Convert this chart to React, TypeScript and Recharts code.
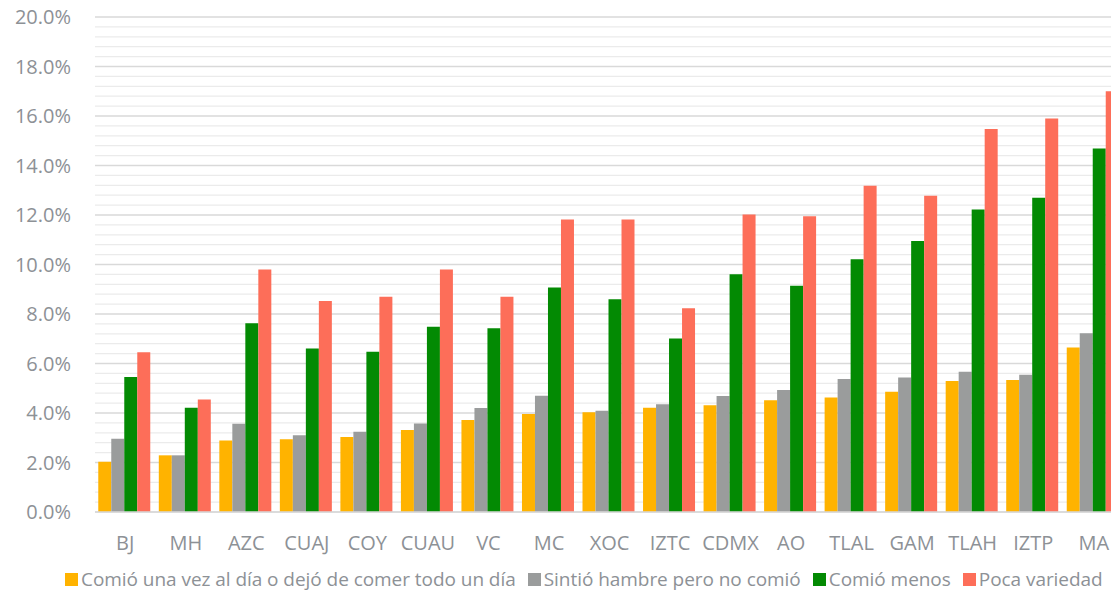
import { Bar, BarChart, CartesianGrid, Legend, ReferenceLine, XAxis, YAxis } from 'recharts';

const alcaldias = ['BJ', 'MH', 'AZC', 'CUAJ', 'COY', 'CUAU', 'VC', 'MC', 'XOC', 'IZTC', 'CDMX', 'AO', 'TLAL', 'GAM', 'TLAH', 'IZTP', 'MA'];

const unaVez = [2.03, 2.29, 2.89, 2.94, 3.03, 3.31, 3.72, 3.96, 4.03, 4.21, 4.31, 4.52, 4.63, 4.86, 5.29, 5.33, 6.65];
const hambre = [2.96, 2.29, 3.57, 3.1, 3.24, 3.58, 4.2, 4.7, 4.09, 4.35, 4.69, 4.93, 5.37, 5.43, 5.67, 5.55, 7.22];
const menos = [5.45, 4.21, 7.63, 6.61, 6.47, 7.48, 7.42, 9.07, 8.6, 7.01, 9.61, 9.14, 10.21, 10.95, 12.22, 12.7, 14.69];
const variedad = [6.45, 4.55, 9.8, 8.53, 8.7, 9.8, 8.7, 11.82, 11.82, 8.23, 12.02, 11.95, 13.18, 12.78, 15.47, 15.9, 17.0];

const yTicks = [0, 2, 4, 6, 8, 10, 12, 14, 16, 18, 20];
const minorLines = [
  0.4, 0.8, 1.2, 1.6, 2.4, 2.8, 3.2, 3.6, 4.4, 4.8, 5.2, 5.6, 6.4, 6.8, 7.2, 7.6,
  8.4, 8.8, 9.2, 9.6, 10.4, 10.8, 11.2, 11.6, 12.4, 12.8, 13.2, 13.6, 14.4, 14.8,
  15.2, 15.6, 16.4, 16.8, 17.2, 17.6, 18.4, 18.8, 19.2, 19.6,
];

const series = [
  { key: 'unaVez', name: 'Comió una vez al día o dejó de comer todo un día', color: '#FFB300' },
  { key: 'hambre', name: 'Sintió hambre pero no comió', color: '#9A9C9C' },
  { key: 'menos', name: 'Comió menos', color: '#038A03' },
  { key: 'variedad', name: 'Poca variedad', color: '#FD6E59' },
];

const data = alcaldias.map((name, i) => ({
  name,
  unaVez: unaVez[i],
  hambre: hambre[i],
  menos: menos[i],
  variedad: variedad[i],
}));

const font = '"Open Sans", sans-serif';
const textColor = '#8d9196';
const chartProps = {
  width: 1124,
  height: 595,
  data,
  margin: { top: 17, right: 0, left: 0, bottom: 0 },
  barCategoryGap: '5.4%',
  barGap: 0,
};

function LegendContent() {
  return (
    <div style={{ display: 'flex', paddingLeft: 65, paddingTop: 7, fontFamily: font, fontSize: 19, color: textColor, letterSpacing: -0.05, lineHeight: '20px' }}>
      {series.map((s) => (
        <div key={s.key} style={{ display: 'flex', alignItems: 'center', marginRight: 12 }}>
          <span style={{ width: 13, height: 13, background: s.color, display: 'inline-block', marginRight: 3 }} />
          <span>{s.name}</span>
        </div>
      ))}
    </div>
  );
}

// minor gridlines live in a chart underneath so the bars cover them
function MinorGrid() {
  return (
    <BarChart {...chartProps}>
      {minorLines.map((v) => (
        <ReferenceLine key={v} y={v} stroke="#ebebeb" strokeWidth={1.2} ifOverflow="visible" />
      ))}
      <XAxis dataKey="name" height={50} axisLine={false} tickLine={false} tick={false} />
      <YAxis width={95} domain={[0, 20]} ticks={yTicks} axisLine={false} tickLine={false} tick={false} />
      <Legend verticalAlign="bottom" height={33} content={() => null} />
      {series.map((s) => (
        <Bar key={s.key} dataKey={s.key} fill="transparent" isAnimationActive={false} />
      ))}
    </BarChart>
  );
}

export default function App() {
  return (
    <div style={{ position: 'absolute', left: 0, top: 0, width: 1111, height: 595, overflow: 'hidden', background: '#fff' }}>
      <div style={{ position: 'absolute', left: 0, top: 0 }}>
        <MinorGrid />
      </div>
      <div style={{ position: 'absolute', left: 0, top: 0 }}>
        <BarChart {...chartProps}>
          <CartesianGrid vertical={false} stroke="#d9d9d9" strokeWidth={1.5} />
          <XAxis
            dataKey="name"
            axisLine={{ stroke: '#d9d9d9', strokeWidth: 1.5 }}
            tickLine={false}
            tickSize={0}
            tickMargin={24}
            height={50}
            interval={0}
            tick={{ fill: textColor, fontSize: 20, fontFamily: font }}
          />
          <YAxis
            width={95}
            domain={[0, 20]}
            ticks={yTicks}
            axisLine={false}
            tickLine={false}
            tickSize={0}
            tickMargin={24}
            tickFormatter={(v: number) => `${v.toFixed(1)}%`}
            tick={{ fill: textColor, fontSize: 20, fontFamily: font }}
          />
          <Legend verticalAlign="bottom" height={33} content={<LegendContent />} />
          {series.map((s) => (
            <Bar key={s.key} dataKey={s.key} name={s.name} fill={s.color} isAnimationActive={false} />
          ))}
        </BarChart>
      </div>
    </div>
  );
}
